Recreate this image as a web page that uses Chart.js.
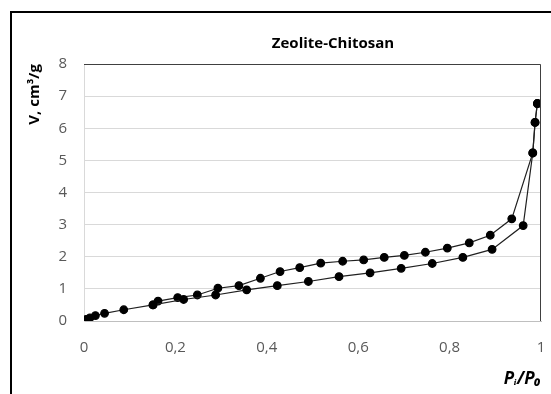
<!DOCTYPE html>
<html>
<head>
<meta charset="utf-8">
<script src="https://cdn.jsdelivr.net/npm/chart.js@4.4.1/dist/chart.umd.min.js"></script>
<style>
    html, body { margin: 0; padding: 0; background: #fff; overflow: hidden; }
    #frame {
        position: absolute; left: 10px; top: 11px; width: 600px; height: 450px;
        border-left: 2px solid #000; border-top: 2px solid #000;
    }
    #wrap { position: absolute; left: 0; top: 0; width: 551px; height: 394px; }
</style>
</head>
<body>
<div id="frame"></div>
<div id="wrap"><canvas id="isoChart"></canvas></div>
<script>
// Nitrogen isotherm
var chartTitle = 'Zeolite-Chitosan';

// adsorption branch (lower curve)
var adsX = [0.004, 0.013, 0.025, 0.045, 0.087, 0.151, 0.218, 0.288, 0.356, 0.423, 0.491, 0.558,
            0.626, 0.694, 0.762, 0.829, 0.893, 0.961, 0.982, 0.987, 0.992];
var adsY = [0.05, 0.10, 0.17, 0.24, 0.35, 0.50, 0.67, 0.81, 0.97, 1.10, 1.23, 1.38,
            1.50, 1.64, 1.79, 1.98, 2.23, 2.97, 5.23, 6.18, 6.77];

// desorption branch (upper curve)
var desX = [0.992, 0.987, 0.982, 0.936, 0.889, 0.843, 0.795, 0.747, 0.701, 0.657, 0.612, 0.566,
            0.518, 0.472, 0.429, 0.386, 0.339, 0.293, 0.248, 0.205, 0.162, 0.151];
var desY = [6.77, 6.18, 5.23, 3.18, 2.67, 2.43, 2.27, 2.14, 2.04, 1.98, 1.90, 1.86,
            1.80, 1.66, 1.54, 1.33, 1.10, 1.02, 0.81, 0.73, 0.62, 0.50];

var xTicks = [0, 0.2, 0.4, 0.6, 0.8, 1];
var xTickLabels = ['0', '0,2', '0,4', '0,6', '0,8', '1'];

function toPoints(xs, ys) {
    return xs.map(function(x, i) { return { x: x, y: ys[i] }; });
}

// title above the plot, plus the dark top/right edges of the plot area
var framePlugin = {
    id: 'framePlugin',
    afterDraw: function(chart) {
        var ctx = chart.ctx, a = chart.chartArea;
        ctx.save();
        ctx.strokeStyle = '#404040';
        ctx.lineWidth = 1;
        ctx.beginPath();
        ctx.moveTo(a.left, a.top + 0.5);
        ctx.lineTo(a.right - 0.5, a.top + 0.5);
        ctx.lineTo(a.right - 0.5, a.bottom);
        ctx.stroke();
        ctx.fillStyle = '#000';
        ctx.font = 'bold 15px "Open Sans"';
        ctx.textAlign = 'center';
        ctx.textBaseline = 'middle';
        ctx.fillText(chartTitle, 333, 44);
        ctx.restore();
    }
};

var lineStyle = {
    showLine: true,
    borderColor: '#202020',
    borderWidth: 1.2,
    backgroundColor: '#000',
    pointBackgroundColor: '#000',
    pointBorderColor: '#000',
    pointRadius: 3.8,
    tension: 0
};

var ctx = document.getElementById('isoChart');
var isoChart = new Chart(ctx, {
    type: 'scatter',
    data: {
        datasets: [
            Object.assign({ label: 'Adsorption', data: toPoints(adsX, adsY) }, lineStyle),
            Object.assign({ label: 'Desorption', data: toPoints(desX, desY) }, lineStyle)
        ]
    },
    options: {
        responsive: true,
        maintainAspectRatio: false,
        animation: false,
        layout: { padding: { top: 64, right: 0, left: 0, bottom: 0 } },
        plugins: {
            legend: { display: false },
            title: { display: false },
            tooltip: { enabled: false }
        },
        scales: {
            x: {
                type: 'linear',
                min: 0,
                max: 1,
                afterBuildTicks: function(scale) {
                    scale.ticks = xTicks.map(function(v) { return { value: v }; });
                },
                afterFit: function(scale) {
                    scale.height = 73;
                    scale.paddingRight = 10;
                    scale.paddingLeft = 0;
                },
                ticks: {
                    color: '#595959',
                    font: { family: '"Open Sans"', size: 15 },
                    padding: 10,
                    maxRotation: 0,
                    callback: function(value) {
                        var i = xTicks.indexOf(value);
                        return i >= 0 ? xTickLabels[i] : '';
                    }
                },
                grid: { display: false },
                border: { color: '#bfbfbf' },
                title: {
                    display: true,
                    text: 'Pᵢ/P₀',
                    align: 'end',
                    color: '#000',
                    font: { family: '"Open Sans"', size: 17, weight: 'bold', style: 'italic' },
                    padding: { top: 0, bottom: 5 }
                }
            },
            y: {
                min: 0,
                max: 8,
                afterFit: function(scale) { scale.width = 84; },
                ticks: {
                    stepSize: 1,
                    color: '#595959',
                    font: { family: '"Open Sans"', size: 15 },
                    padding: 17,
                    z: 0
                },
                grid: { color: '#d9d9d9', drawTicks: false },
                border: { color: '#d9d9d9' },
                title: {
                    display: true,
                    text: 'V, cm³/g',
                    align: 'end',
                    color: '#000',
                    font: { family: '"Open Sans"', size: 15, weight: 'bold' },
                    padding: { top: 26, bottom: 0 }
                }
            }
        }
    },
    plugins: [framePlugin]
});
</script>
</body>
</html>
